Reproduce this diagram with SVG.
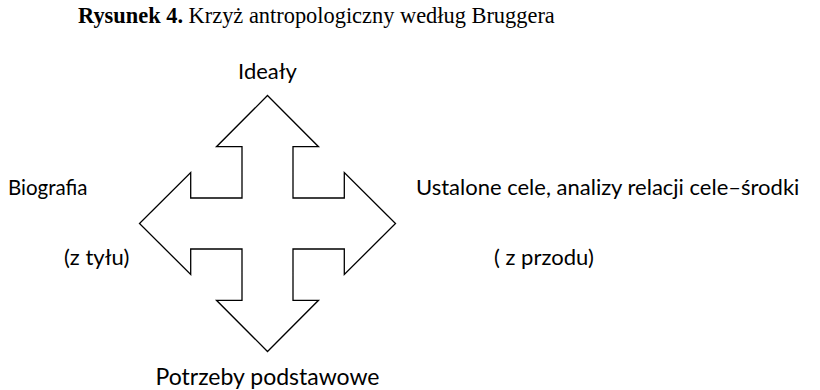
<svg xmlns="http://www.w3.org/2000/svg" width="820" height="390" viewBox="0 0 820 390">
<style>
.title{font-family:"Liberation Serif","Times New Roman",serif;font-size:22.4px;fill:#000}
.lbl{font-family:Lato,"Open Sans","Liberation Sans",sans-serif;font-size:22px;fill:#000}
.cross{fill:#fff;stroke:#000;stroke-width:1.3;stroke-linejoin:miter}
</style>
<rect width="820" height="390" fill="#fff"/>
<text class="title" x="78" y="23"><tspan font-weight="bold">Rysunek 4.</tspan> Krzyż antropologiczny według Bruggera</text>
<g id="cross">
<path class="cross" d="M267.5,95.5 L318.5,146.7 L293,146.7 L293,198 L344.3,198 L344.3,172.5 L395.5,223.5 L344.3,274.5 L344.3,249 L293,249 L293,300.3 L318.5,300.3 L267.5,351.5 L216.5,300.3 L242,300.3 L242,249 L190.7,249 L190.7,274.5 L139.5,223.5 L190.7,172.5 L190.7,198 L242,198 L242,146.7 L216.5,146.7 Z"/>
</g>
<g id="idealy"><text class="lbl" x="267.5" y="79" text-anchor="middle">Ideały</text></g>
<g id="biografia"><text class="lbl" x="8" y="195" style="font-size:20.5px">Biografia</text><text class="lbl" x="64" y="265">(z tyłu)</text></g>
<g id="cele"><text class="lbl" x="416" y="195">Ustalone cele, analizy relacji cele–środki</text><text class="lbl" x="494" y="265">( z przodu)</text></g>
<g id="potrzeby"><text class="lbl" x="267.5" y="385" text-anchor="middle" style="font-size:23px">Potrzeby podstawowe</text></g>
<g id="connectors"></g>
</svg>
